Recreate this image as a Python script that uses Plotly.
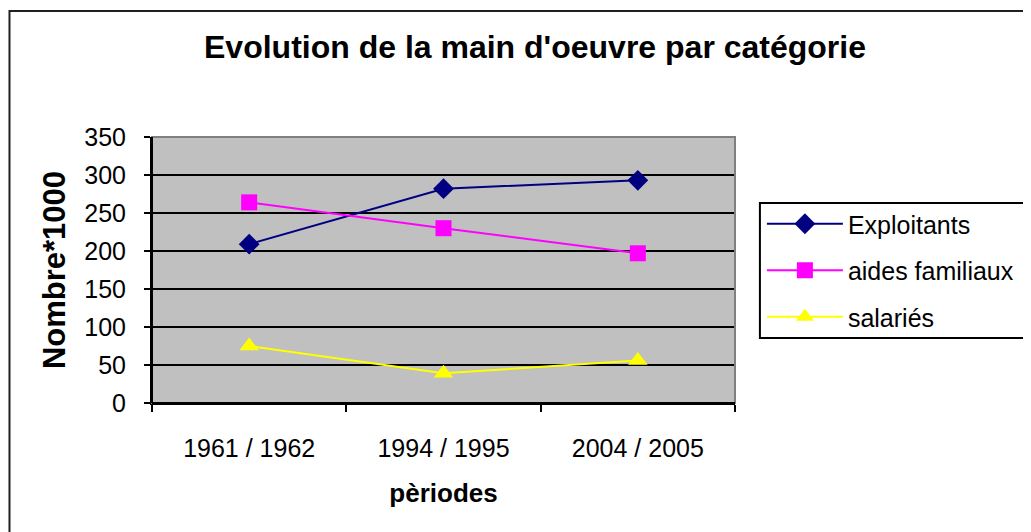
import plotly.graph_objects as go

periods = ["1961 / 1962", "1994 / 1995", "2004 / 2005"]
exploitants = [209, 282, 293]
aides_familiaux = [264, 230, 197]
salaries = [75, 39, 56]
y_ticks = [0, 50, 100, 150, 200, 250, 300, 350]

FONT = "Liberation Sans, Arial, sans-serif"

fig = go.Figure()
fig.add_trace(go.Scatter(x=periods, y=exploitants, name="Exploitants", mode="lines+markers",
                         line=dict(color="#000080", width=2),
                         marker=dict(symbol="diamond", size=16, color="#000080"),
                         legendgroup="a"))
fig.add_trace(go.Scatter(x=periods, y=aides_familiaux, name="aides familiaux", mode="lines+markers",
                         line=dict(color="#FF00FF", width=2),
                         marker=dict(symbol="square", size=16, color="#FF00FF"),
                         legendgroup="b"))
fig.add_trace(go.Scatter(x=periods, y=salaries, name="salariés", mode="lines+markers",
                         line=dict(color="#FFFF00", width=2),
                         marker=dict(symbol="triangle-up", size=17, color="#FFFF00"),
                         legendgroup="c"))

# page body has an 8px margin, so figure coords = screen coords - 8
OFF = 8
W, H = 1031 - OFF, 532 - OFF
L, R, T, B = 152 - OFF, 737 - OFF, 137 - OFF, 403 - OFF
pw, ph = R - L, B - T


def px_x(sx):
    return (sx - OFF - L) / pw


def px_y(sy):
    return (B - (sy - OFF)) / ph


fig.update_layout(
    width=W, height=H,
    margin=dict(l=L, r=W - R, t=T, b=H - B, pad=0),
    paper_bgcolor="white",
    plot_bgcolor="#C0C0C0",
    font=dict(family=FONT, size=25, color="black"),
    title=dict(text="<b>Evolution de la main d'oeuvre par catégorie</b>",
               x=(535 - OFF) / W, xanchor="center", y=1 - (47 - OFF) / H, yanchor="middle",
               font=dict(size=32, family=FONT, color="black")),
    showlegend=True,
    legend=dict(x=px_x(764), y=px_y(201), xanchor="left", yanchor="top",
                borderwidth=0, bgcolor="rgba(0,0,0,0)",
                font=dict(size=25, family=FONT, color="black"),
                traceorder="grouped", tracegroupgap=11, itemwidth=76),
    xaxis=dict(type="category", range=[-0.5, 2.5], tickson="boundaries",
               ticks="outside", ticklen=7, tickwidth=2, tickcolor="black",
               showline=True, linecolor="black", linewidth=2,
               showgrid=False, zeroline=False,
               ticklabelstandoff=22,
               title=dict(text="<b>pèriodes</b>", font=dict(size=26, family=FONT), standoff=23)),
    yaxis=dict(range=[0, 350], tickvals=y_ticks,
               ticks="outside", ticklen=6, tickwidth=2, tickcolor="black",
               showline=True, linecolor="black", linewidth=2,
               showgrid=True, gridcolor="black", gridwidth=2, zeroline=False,
               ticklabelstandoff=13,
               title=dict(text="<b>Nombre*1000</b>", font=dict(size=31, family=FONT), standoff=9)),
)

# plot area border (top/right gray)
fig.add_shape(type="rect", xref="paper", yref="paper", x0=0, x1=1, y0=0, y1=1,
              line=dict(color="#808080", width=2), layer="above")
fig.add_shape(type="line", xref="paper", yref="paper", x0=0, x1=0, y0=0, y1=1,
              line=dict(color="black", width=2), layer="above")
fig.add_shape(type="line", xref="paper", yref="paper", x0=0, x1=1, y0=0, y1=0,
              line=dict(color="black", width=2), layer="above")
# legend frame (extends past the right edge like the reference)
fig.add_shape(type="rect", xref="paper", yref="paper",
              x0=px_x(762), x1=px_x(1060), y0=px_y(338), y1=px_y(203),
              line=dict(color="black", width=2), fillcolor="white", layer="below")
# outer chart border
fig.add_shape(type="rect", xref="paper", yref="paper",
              x0=px_x(9), x1=px_x(1060),
              y0=px_y(560), y1=px_y(11),
              line=dict(color="#202020", width=2), layer="below")

fig.write_html("out.html")
